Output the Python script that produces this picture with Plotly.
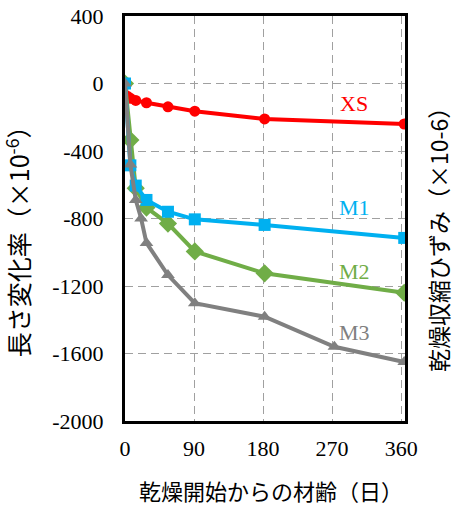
import plotly.graph_objects as go

# ---- data ----
xs_days = [0, 3, 7, 14, 28, 56, 91, 182, 364]
xs_vals = [0, -75, -88, -100, -114, -138, -164, -210, -240]

m1_days = [0, 7, 14, 28, 56, 91, 182, 364]
m1_vals = [0, -485, -605, -690, -760, -805, -838, -915]

m2_days = [0, 7, 14, 28, 56, 91, 182, 364]
m2_vals = [0, -335, -620, -735, -830, -995, -1125, -1240]

m3_days = [0, 7, 14, 21, 28, 56, 91, 182, 273, 364]
m3_vals = [0, -480, -690, -800, -945, -1135, -1302, -1382, -1560, -1650]

x_ticks = [0, 90, 180, 270, 360]
y_ticks = [400, 0, -400, -800, -1200, -1600, -2000]

series_names = ["XS", "M1", "M2", "M3"]
label_pos = {"XS": (299, -116), "M1": (299, -732), "M2": (299, -1116), "M3": (299, -1478)}

colors = {"XS": "#FF0000", "M1": "#00B0F0", "M2": "#70AD47", "M3": "#808080"}

fig = go.Figure()

def add(days, vals, name, symbol, size):
    fig.add_trace(go.Scatter(
        x=days, y=vals, name=name, mode="lines+markers",
        line=dict(color=colors[name], width=4),
        marker=dict(symbol=symbol, size=size, color=colors[name]),
        showlegend=False))

add(xs_days, xs_vals, "XS", "circle", 11)
add(m2_days, m2_vals, "M2", "diamond", 14)
add(m1_days, m1_vals, "M1", "square", 12)
add(m3_days, m3_vals, "M3", "triangle-up", 12)

serif = "Liberation Serif"
cjk = "Noto Sans CJK JP"

for n in series_names:
    lx, ly = label_pos[n]
    fig.add_annotation(x=lx, y=ly, xref="x", yref="y", text=n, showarrow=False,
                       xanchor="center", yanchor="middle",
                       font=dict(family=serif, size=22, color=colors[n]))

fig.add_annotation(x=-0.382, y=0.459, xref="paper", yref="paper",
                   text="長さ変化率（×10<sup>-6</sup>）", textangle=-90, showarrow=False,
                   xanchor="center", yanchor="middle",
                   font=dict(family=cjk, size=25, color="black"))
fig.add_annotation(x=1.118, y=0.462, xref="paper", yref="paper",
                   text="乾燥収縮ひずみ（×10-6）", textangle=-90, showarrow=False,
                   xanchor="center", yanchor="middle",
                   font=dict(family=cjk, size=23, color="black"))
fig.add_annotation(x=0.523, y=-0.170, xref="paper", yref="paper",
                   text="乾燥開始からの材齢（日）", showarrow=False,
                   xanchor="center", yanchor="middle",
                   font=dict(family=cjk, size=22, color="black"))

fig.update_xaxes(range=[0, 365], tickvals=x_ticks, ticktext=[str(v) for v in x_ticks],
                 showgrid=True, gridcolor="#A0A0A0", gridwidth=1, griddash="8px,5px",
                 zeroline=False, showline=True, linecolor="black", linewidth=3, mirror=True,
                 ticks="", ticklabelstandoff=6, automargin=False,
                 tickfont=dict(family=serif, size=22, color="black"))
fig.update_yaxes(range=[-2000, 400], tickvals=y_ticks, ticktext=[str(v) for v in y_ticks],
                 showgrid=True, gridcolor="#A0A0A0", gridwidth=1, griddash="8px,5px",
                 zeroline=False, showline=True, linecolor="black", linewidth=3, mirror=True,
                 ticks="", ticklabelstandoff=14, automargin=False,
                 tickfont=dict(family=serif, size=22, color="black"))

fig.update_layout(width=454, height=506, margin=dict(l=125, r=49, t=16, b=85, autoexpand=False),
                  font=dict(family=serif, size=22, color="black"),
                  plot_bgcolor="white", paper_bgcolor="white")

fig.write_html("out.html")
